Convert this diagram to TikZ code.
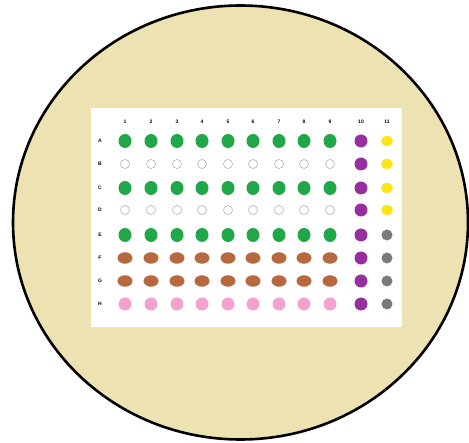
\documentclass[tikz,border=0pt]{standalone}
\usepackage{fontspec}
\setmainfont{Liberation Sans}
\usetikzlibrary{shapes.geometric}
\begin{document}
\begin{tikzpicture}[x=1pt,y=-1pt,
  lbl/.style={font=\fontsize{5}{5}\selectfont\bfseries, inner sep=0pt},
  well/.style={ellipse, inner sep=0pt, minimum width=13pt, minimum height=13pt, draw=none},
  emptywell/.style={circle, inner sep=0pt, minimum size=9pt, draw=black!35, line width=0.5pt, fill=white},
  brownwell/.style={well, minimum width=15pt, minimum height=11.5pt, fill=wbrown},
  ]
\definecolor{beige}{RGB}{237,226,178}
\definecolor{wgreen}{RGB}{32,168,72}
\definecolor{wbrown}{RGB}{184,104,62}
\definecolor{wpink}{RGB}{242,162,204}
\definecolor{wpurple}{RGB}{150,48,158}
\definecolor{wyellow}{RGB}{250,230,20}
\definecolor{wgray}{RGB}{118,124,120}
\useasboundingbox (0,0) rectangle (469,443);
\fill[white] (0,0) rectangle (469,443);
\draw[fill=beige, line width=2.6pt] (240.5,222.5) ellipse [x radius=227.5, y radius=217];
\fill[white] (91,108) rectangle (402,327);
\foreach \c/\x in {1/125,2/151,3/177,4/202,5/228,6/253,7/279,8/304,9/330,10/361,11/387}
  \node[lbl] (col\c) at (\x,122) {\c};
\foreach \r/\y in {A/141,B/164,C/188,D/210,E/235,F/258,G/281,H/304}
  \node[lbl] (row\r) at (100,\y) {\r};
\foreach \c/\x in {1/125,2/151,3/177,4/202,5/228,6/253,7/279,8/304,9/330}{
  \node[well, fill=wgreen, minimum height=14pt] (A\c) at (\x,141) {};
  \node[emptywell] (B\c) at (\x,164) {};
  \node[well, fill=wgreen, minimum height=14pt] (C\c) at (\x,188) {};
  \node[emptywell] (D\c) at (\x,210) {};
  \node[well, fill=wgreen, minimum height=14pt] (E\c) at (\x,235) {};
  \node[brownwell] (F\c) at (\x,258) {};
  \node[brownwell] (G\c) at (\x,281) {};
  \node[well, fill=wpink] (H\c) at (\x,304) {};
}
\foreach \r/\y in {A/141,B/164,C/188,D/210,E/235,F/258,G/281,H/304}
  \node[well, fill=wpurple] (\r10) at (361,\y) {};
\foreach \r/\y in {A/141,B/164,C/188,D/210}
  \node[well, fill=wyellow, minimum width=12pt, minimum height=10pt] (\r11) at (387,\y) {};
\foreach \r/\y in {E/235,F/258,G/281,H/304}
  \node[well, fill=wgray, minimum width=11pt, minimum height=11pt] (\r11) at (387,\y) {};
\end{tikzpicture}
\end{document}
